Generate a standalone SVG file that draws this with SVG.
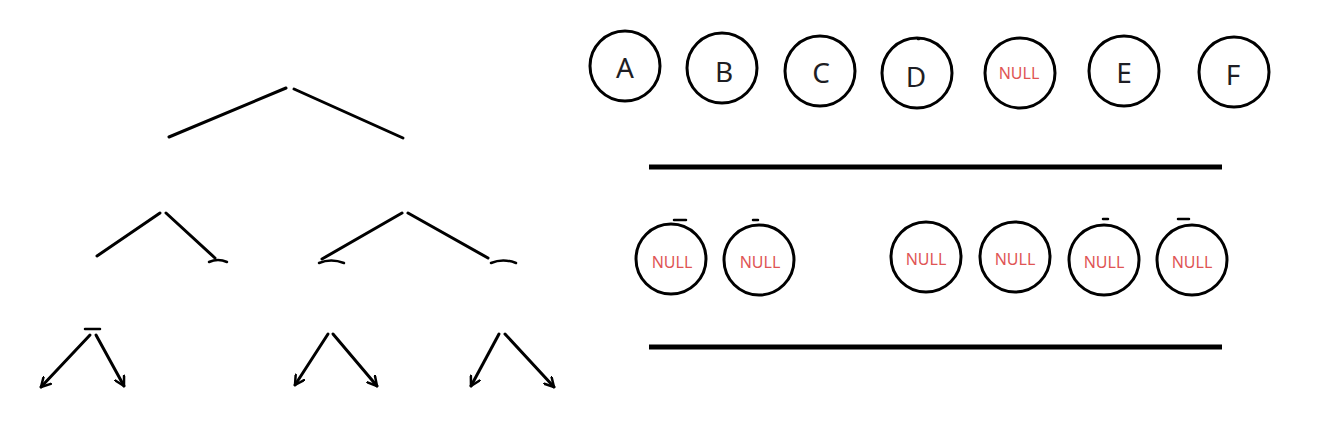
<svg xmlns="http://www.w3.org/2000/svg" width="1332" height="435" viewBox="0 0 1332 435">
<style>
.edge{fill:none;stroke:#000;stroke-width:3;stroke-linecap:round}
.mark{fill:none;stroke:#000;stroke-width:2.5;stroke-linecap:round}
.node circle{fill:#fff;stroke:#000;stroke-width:3}
.lbl{font-family:"Noto Sans","Open Sans",sans-serif;font-size:28px;fill:#1e1e24;text-anchor:middle}
.nul{font-family:"Noto Sans","Open Sans",sans-serif;font-size:16px;fill:#e05555;text-anchor:middle}
.bar{stroke:#000;stroke-width:5}
</style>
<defs>
<marker id="arr" viewBox="0 0 12 12" refX="10" refY="6" markerWidth="12" markerHeight="12" markerUnits="userSpaceOnUse" orient="auto">
<path d="M1,1 L10,6 L1,11" fill="none" stroke="#000" stroke-width="2.5" stroke-linecap="round" stroke-linejoin="round"/>
</marker>
</defs>
<rect width="1332" height="435" fill="#fff"/>
<g id="connectors">
<path class="edge" d="M286,88 L169,137"/>
<path class="edge" d="M294,89 L403,138"/>
<path class="edge" d="M160,213 L97,256"/>
<path class="edge" d="M166,213 L215,258"/>
<path class="edge" d="M402,213 L322,259"/>
<path class="edge" d="M408,213 L488,258"/>
<path class="edge" d="M90,335 L41,387" marker-end="url(#arr)"/>
<path class="edge" d="M96,335 L124,386" marker-end="url(#arr)"/>
<path class="edge" d="M328,334 L295,385" marker-end="url(#arr)"/>
<path class="edge" d="M333,334 L377,386" marker-end="url(#arr)"/>
<path class="edge" d="M499,334 L471,386" marker-end="url(#arr)"/>
<path class="edge" d="M505,334 L554,387" marker-end="url(#arr)"/>
<path class="mark" d="M209,262 Q218,258 227,262"/>
<path class="mark" d="M319,263 Q331,258 344,263"/>
<path class="mark" d="M491,263 Q503,258 516,263"/>
<path class="mark" d="M85,329 L100,329"/>
</g>
<g id="bar1"><line class="bar" x1="649" y1="167" x2="1222" y2="167"/></g>
<g id="bar2"><line class="bar" x1="649" y1="347" x2="1222" y2="347"/></g>
<g id="nA" class="node"><circle cx="625" cy="66" r="35"/><text class="lbl" x="625" y="78">A</text></g>
<g id="nB" class="node"><circle cx="722" cy="68" r="35"/><text class="lbl" x="724" y="82">B</text></g>
<g id="nC" class="node"><circle cx="820" cy="71" r="35"/><text class="lbl" x="821" y="83">C</text></g>
<g id="nD" class="node"><circle cx="917" cy="73" r="35"/><text class="lbl" x="916" y="87">D</text></g>
<g id="nNull0" class="node"><circle cx="1020" cy="73" r="35"/><text class="nul" x="1019" y="79">NULL</text></g>
<g id="nE" class="node"><circle cx="1124" cy="71" r="35"/><text class="lbl" x="1124" y="83">E</text></g>
<g id="nF" class="node"><circle cx="1234" cy="72" r="35"/><text class="lbl" x="1233" y="85">F</text></g>
<g id="n1" class="node"><circle cx="671" cy="259" r="35"/><text class="nul" x="672" y="268">NULL</text></g>
<g id="n2" class="node"><circle cx="759" cy="260" r="35"/><text class="nul" x="760" y="268">NULL</text></g>
<g id="n3" class="node"><circle cx="926" cy="257" r="35"/><text class="nul" x="926" y="265">NULL</text></g>
<g id="n4" class="node"><circle cx="1015" cy="257" r="35"/><text class="nul" x="1015" y="265">NULL</text></g>
<g id="n5" class="node"><circle cx="1104" cy="260" r="35"/><text class="nul" x="1104" y="268">NULL</text></g>
<g id="n6" class="node"><circle cx="1192" cy="260" r="35"/><text class="nul" x="1192" y="268">NULL</text></g>
<g id="ticks">
<path class="mark" d="M674,220 L686,220"/>
<path class="mark" d="M753,220 L758,220"/>
<path class="mark" d="M1103,219 L1108,219"/>
<path class="mark" d="M1178,219 L1189,219"/>
<path class="mark" d="M918,39 L919,39"/>
</g>
</svg>
